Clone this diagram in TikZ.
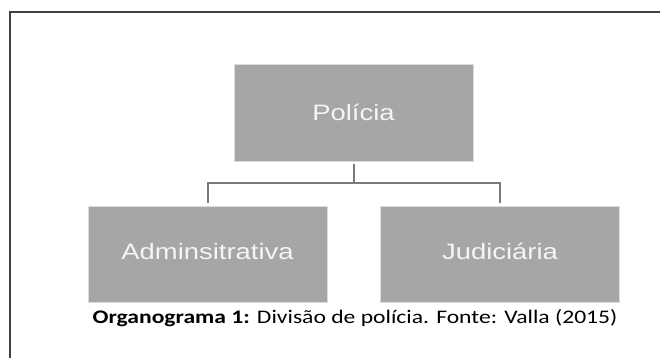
\documentclass[tikz,border=0pt]{standalone}
\usepackage{fontspec}
\usepackage{graphicx}
\usepackage{xcolor}
\usepackage{tikz}
\usetikzlibrary{positioning,calc}
\newfontfamily\boxfont{Liberation Sans}
\newfontfamily\capfont{Carlito}
\definecolor{boxgray}{HTML}{A6A6A6}
\definecolor{boxedge}{HTML}{DCDCDC}
\definecolor{linegray}{HTML}{7A7A7A}
\definecolor{framegray}{HTML}{404040}
\tikzset{
  unit/.style={draw=boxedge, line width=0.8pt, fill=boxgray, minimum width=239pt, minimum height=97pt,
    inner sep=0pt, text depth=2pt, text=white!96!black, font=\boxfont\fontsize{22.3}{26}\selectfont},
  conn/.style={draw=linegray, line width=2pt},
  caption/.style={inner sep=0pt, font=\capfont\fontsize{19.2}{22}\selectfont}
}
\newcommand{\wide}[1]{\scalebox{1.23}[1]{#1}}

\begin{document}
\begin{tikzpicture}[x=1pt, y=-1pt]
    \useasboundingbox (0,0) rectangle (660,358);
    % Frame
    \draw[framegray, line width=2pt] (9.5,358) |- (660,12.5);
    % Boxes
    \node[unit] (policia) at (353.5,113) {\wide{Polícia}};
    \node[unit, minimum height=96pt, text depth=5pt] (admin) at (207.5,254) {\wide{Adminsitrativa}};
    \node[unit, minimum height=96pt, text depth=5pt] (judic) at (500,254) {\wide{Judiciária}};
    % Connectors
    \coordinate (junc) at ($(policia.south)+(0,21.5)$);
    \draw[conn, shorten <=2pt] (policia.south) -- (junc);
    \draw[conn, shorten <=3pt, shorten >=3pt] (admin.north) |- (junc) -| (judic.north);
    % Caption
    \node[caption] (cap) at (355,318) {\wide{\textbf{Organograma 1:} Divisão de polícia. Fonte: Valla (2015)}};
\end{tikzpicture}
\end{document}
